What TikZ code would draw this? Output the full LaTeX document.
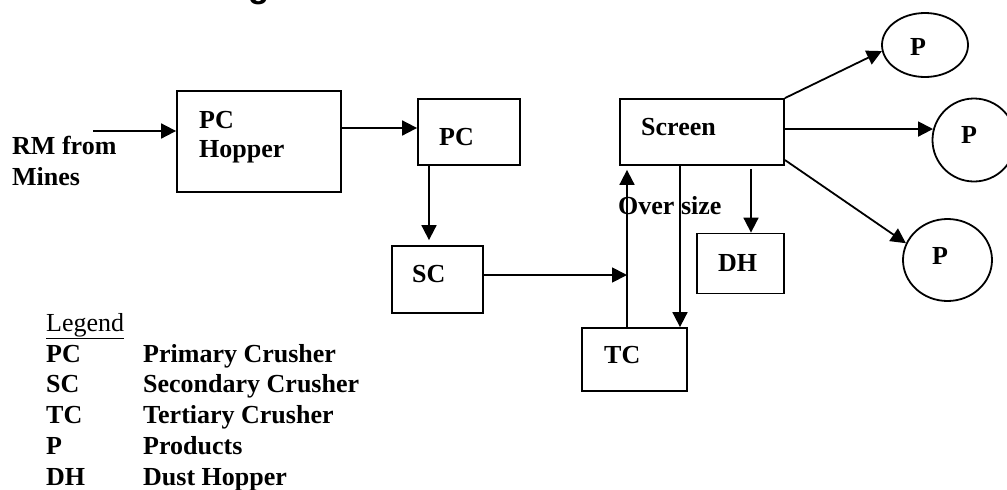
\documentclass[tikz,border=0pt]{standalone}
\usepackage{fontspec}
\setmainfont{Liberation Serif}
\newfontfamily\titlefont{Liberation Sans}
\usetikzlibrary{arrows.meta,shapes.geometric,calc}
\begin{document}
\begin{tikzpicture}[x=1pt,y=-1pt,
  box/.style={draw,line width=1.8pt,inner sep=0pt,rectangle},
  prod/.style={draw,line width=1.8pt,inner sep=0pt,ellipse},
  txt/.style={anchor=base west,inner sep=0pt,font=\fontsize{26}{30}\selectfont\bfseries},
  lgd/.style={anchor=base west,inner sep=0pt,font=\fontsize{26}{30}\selectfont},
  arr/.style={line width=1.8pt,-{Triangle[length=15pt,width=15pt]}}]
\useasboundingbox (0,0) rectangle (1007,490);
\fill[white] (0,0) rectangle (1007,490);
% title fragment
\node[anchor=base west,inner sep=0pt,font={\titlefont\fontsize{34.7}{40}\selectfont\bfseries}] (ttl) at (248,-2.3) {g};
% boxes
\node[box,minimum width=164pt,minimum height=101pt] (hop) at (259,141.5) {};
\node[box,minimum width=102pt,minimum height=66pt] (pc) at (469,132) {};
\node[box,minimum width=91pt,minimum height=67pt] (sc) at (437.5,279.5) {};
\node[box,minimum width=105pt,minimum height=63pt] (tc) at (634.5,359.5) {};
\node[box,minimum width=164pt,minimum height=66pt] (scr) at (702,132) {};
\node[box,minimum width=87pt,minimum height=60pt] (dh) at (740.5,263.5) {};
\node[prod,minimum width=86pt,minimum height=64pt] (p1) at (925,45) {};
\node[prod,minimum width=83pt,minimum height=83pt] (p2) at (974,140) {};
\node[prod,minimum width=89pt,minimum height=82pt] (p3) at (947.5,260) {};
% texts
\node[txt] (rm1) at (12,154) {RM from};
\node[txt] (rm2) at (12,185) {Mines};
\node[txt] (thop1) at (199,128) {PC};
\node[txt] (thop2) at (199,157) {Hopper};
\node[txt] (tpc) at (439,145) {PC};
\node[txt] (tsc) at (412,282) {SC};
\node[txt] (ttc) at (604,363) {TC};
\node[txt] (tscr) at (641,135) {Screen};
\node[txt] (tdh) at (718,271) {DH};
\node[txt] (tp1) at (910,55) {P};
\node[txt] (tp2) at (961,143) {P};
\node[txt] (tp3) at (932,264) {P};
% connectors
\coordinate (in) at (93,131);
\draw[arr] (in) -- (in -| hop.west);
\coordinate (a1) at (341,128);
\draw[arr] (a1 -| hop.east) -- (a1 -| pc.west);
\coordinate (a2) at (429,0);
\draw[arr,shorten >=5pt] (a2 |- pc.south) -- (a2 |- sc.north);
\coordinate (j) at (627,275);
\draw[arr] (j -| sc.east) -- (j);
\draw[arr,shorten >=4pt] (j |- tc.north) -- (j |- scr.south);
\coordinate (a3) at (680,0);
\draw[arr] (a3 |- scr.south) -- (a3 |- tc.north);
\coordinate (a4) at (751,0);
\draw[arr,shorten <=3pt] (a4 |- scr.south) -- (a4 |- dh.north);
\draw[arr] (scr.north east) -- (p1.188);
\draw[arr] (scr.east |- p2.165) -- (p2.165);
\draw[arr] ([yshift=-28pt]scr.east) -- (p3.158);
\node[txt] (over) at (618,214) {Over size};
% legend
\node[lgd] (lg) at (46,331) {\underline{Legend}};
\node[txt] (k1) at (46,362) {PC};
\node[txt] (d1) at (143,362) {Primary Crusher};
\node[txt] (k2) at (46,392.75) {SC};
\node[txt] (d2) at (143,392.75) {Secondary Crusher};
\node[txt] (k3) at (46,423.5) {TC};
\node[txt] (d3) at (143,423.5) {Tertiary Crusher};
\node[txt] (k4) at (46,454.25) {P};
\node[txt] (d4) at (143,454.25) {Products};
\node[txt] (k5) at (46,485) {DH};
\node[txt] (d5) at (143,485) {Dust Hopper};
\end{tikzpicture}
\end{document}
